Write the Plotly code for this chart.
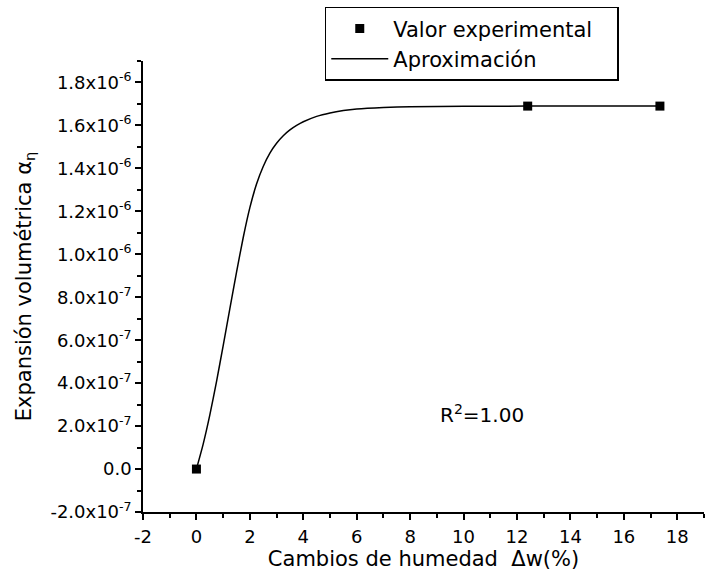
import plotly.graph_objects as go

# Experimental data
exp_x = [0.0, 12.4, 17.35]
exp_y = [0.0, 1.69e-6, 1.69e-6]

# Fitted curve
fit_x = [0.0, 0.25, 0.5, 0.75, 1.0, 1.25, 1.5, 1.75, 2.0, 2.25, 2.5, 2.75, 3.0, 3.25,
         3.5, 3.75, 4.0, 4.5, 5.0, 5.5, 6.0, 7.0, 8.0, 10.0, 12.4, 17.35]
fit_y = [0.0, 1.15e-7, 2.51e-7, 4.06e-7, 5.74e-7, 7.46e-7, 9.16e-7, 1.077e-6, 1.217e-6,
         1.327e-6, 1.409e-6, 1.471e-6, 1.517e-6, 1.552e-6, 1.579e-6, 1.600e-6, 1.617e-6,
         1.642e-6, 1.658e-6, 1.669e-6, 1.676e-6, 1.683e-6, 1.687e-6, 1.689e-6, 1.69e-6,
         1.69e-6]

x_ticks = [-2, 0, 2, 4, 6, 8, 10, 12, 14, 16, 18]
y_ticks = [-2e-7, 0, 2e-7, 4e-7, 6e-7, 8e-7, 1.0e-6, 1.2e-6, 1.4e-6, 1.6e-6, 1.8e-6]
y_ticktext = ["-2.0x10<sup>-7</sup>", "0.0", "2.0x10<sup>-7</sup>", "4.0x10<sup>-7</sup>",
              "6.0x10<sup>-7</sup>", "8.0x10<sup>-7</sup>", "1.0x10<sup>-6</sup>",
              "1.2x10<sup>-6</sup>", "1.4x10<sup>-6</sup>", "1.6x10<sup>-6</sup>",
              "1.8x10<sup>-6</sup>"]

FONT = "DejaVu Sans, Liberation Sans, Arial, sans-serif"

fig = go.Figure()
fig.add_trace(go.Scatter(x=fit_x, y=fit_y, mode="lines", name="Aproximación",
                         line=dict(color="black", width=1.5, shape="spline", smoothing=0.6),
                         legendrank=2))
fig.add_trace(go.Scatter(x=exp_x, y=exp_y, mode="markers",
                         name="Valor experimental\u00a0\u00a0\u00a0",
                         marker=dict(symbol="square", size=9, color="black"),
                         legendrank=1))

fig.add_annotation(x=10.7, y=2.57e-7, text="R<sup>2</sup>=1.00", showarrow=False,
                   font=dict(family=FONT, size=20, color="black"))

axis_common = dict(showline=True, linecolor="black", linewidth=1.5, mirror=False,
                   ticks="outside", ticklen=6, tickwidth=1.5, tickcolor="black",
                   showgrid=False, zeroline=False,
                   tickfont=dict(family=FONT, size=18, color="black"))

fig.update_xaxes(range=[-2, 19], tickmode="array", tickvals=x_ticks,
                 ticktext=[str(v) for v in x_ticks],
                 minor=dict(ticks="outside", ticklen=4, tickwidth=1.5, tickcolor="black",
                            tickmode="linear", tick0=0, dtick=1),
                 title=dict(text="Cambios de humedad  Δw(%)",
                            font=dict(family=FONT, size=21, color="black"), standoff=0),
                 ticklabelstandoff=2,
                 **axis_common)
fig.update_yaxes(range=[-2e-7, 1.9e-6], tickmode="array", tickvals=y_ticks,
                 ticktext=y_ticktext,
                 minor=dict(ticks="outside", ticklen=4, tickwidth=1.5, tickcolor="black",
                            tickmode="linear", tick0=0, dtick=1e-7),
                 title=dict(text="Expansión volumétrica α<sub>η</sub>",
                            font=dict(family=FONT, size=21, color="black"), standoff=13),
                 **axis_common)

fig.update_layout(
    width=707, height=574,
    margin=dict(l=143, r=3, t=61, b=62),
    plot_bgcolor="white", paper_bgcolor="white",
    showlegend=True,
    legend=dict(x=0.324, y=1.12, xanchor="left", yanchor="top",
                bgcolor="white", bordercolor="black", borderwidth=1.5,
                font=dict(family=FONT, size=21, color="black"),
                itemwidth=57, tracegroupgap=0),
)

fig.write_html("out.html")
